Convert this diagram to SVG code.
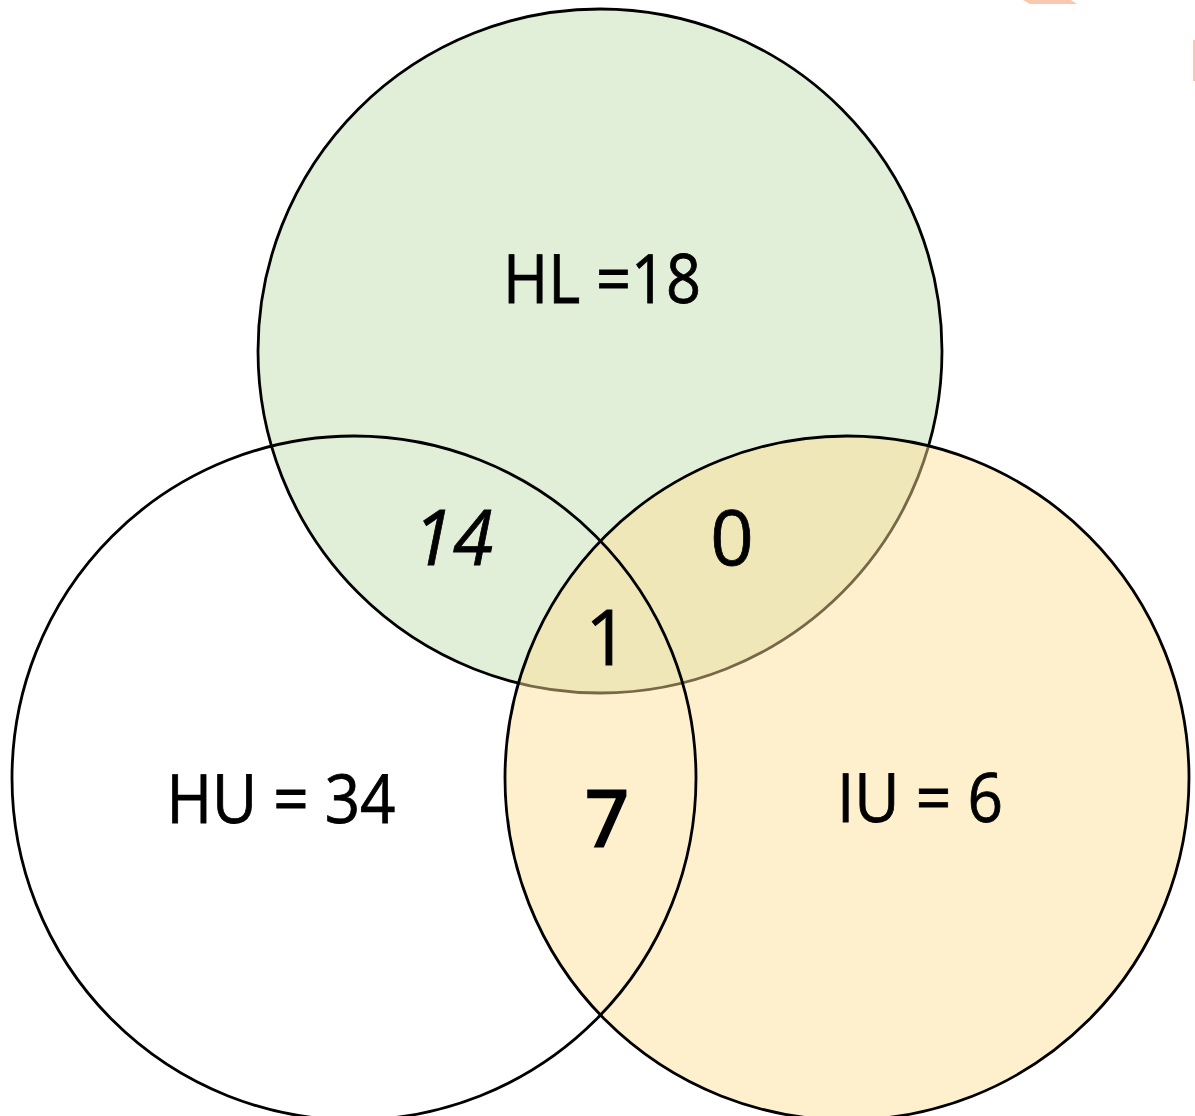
<svg xmlns="http://www.w3.org/2000/svg" width="1195" height="1116" viewBox="0 0 1195 1116">
<style>
.c{stroke:#000;stroke-width:2.8}
.t{font-family:"Open Sans","Liberation Sans",sans-serif;fill:#000;text-anchor:middle;stroke:#000;stroke-width:0.8}
.lbl{font-size:67px}
.num{font-size:76px}
.heavy{stroke-width:3}
</style>
<rect width="1195" height="1116" fill="#fff"/>
<polygon points="1023,0 1071,0 1077,4 1030,4" fill="#f9c8ae"/>
<rect x="1193" y="40" width="2" height="41" fill="#f9c8ae"/>
<g id="HL">
<circle class="c" cx="600" cy="351" r="342" fill="#e1eed8"/>
</g>
<g id="IU">
<circle cx="847" cy="778" r="342" fill="#ffdf95" fill-opacity="0.47"/>
<circle class="c" cx="847" cy="778" r="342" fill="none"/>
</g>
<g id="HU">
<circle class="c" cx="354" cy="778" r="342" fill="none"/>
</g>
<g id="labels">
<text class="t lbl" x="602" y="303" textLength="198" lengthAdjust="spacingAndGlyphs">HL =18</text>
<text class="t lbl" x="281" y="823" textLength="229" lengthAdjust="spacingAndGlyphs">HU = 34</text>
<text class="t lbl" x="920" y="822" textLength="166" lengthAdjust="spacingAndGlyphs">IU = 6</text>
<text class="t num" x="453" y="565" font-style="italic" textLength="80" lengthAdjust="spacingAndGlyphs">14</text>
<text class="t num" x="732" y="565">0</text>
<text class="t num" x="607" y="665">1</text>
<text class="t num heavy" x="607" y="846">7</text>
</g>
</svg>
